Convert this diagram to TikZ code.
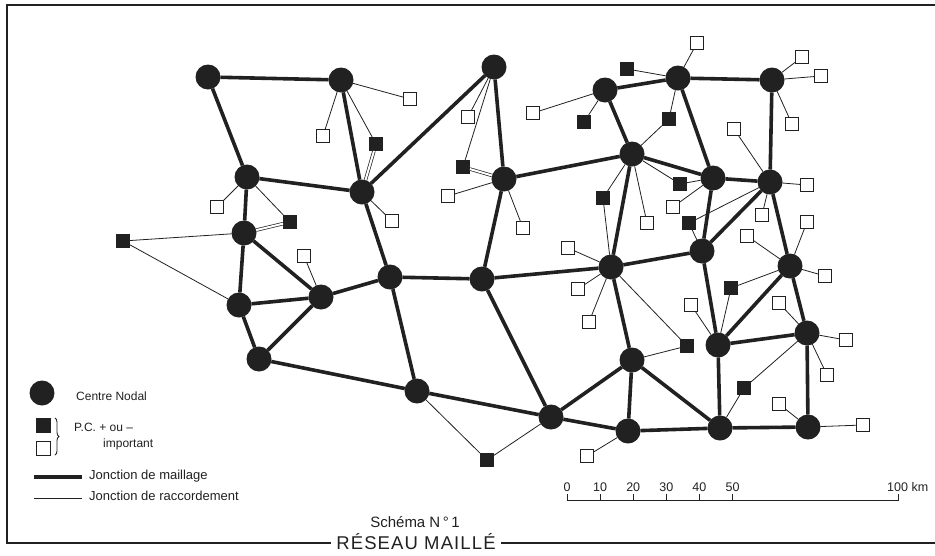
\documentclass[tikz,border=0pt]{standalone}
\usepackage{fontspec}
\setmainfont{Liberation Sans}
\usetikzlibrary{decorations.pathreplacing}
\definecolor{ink}{gray}{0.13}

\begin{document}
\begin{tikzpicture}[
	x = 1pt, y = -1pt,
	centre/.style = {circle, fill = ink, minimum size = 25pt, inner sep = 0pt, outer sep = 0pt},
	pcnoir/.style = {rectangle, fill = ink, minimum size = 14pt, inner sep = 0pt, outer sep = 0pt},
	pcblanc/.style = {rectangle, draw = ink, fill = white, line width = 0.9pt, minimum size = 13pt, inner sep = 0pt, outer sep = 0pt},
	maillage/.style = {draw = ink, line width = 3.6pt},
	raccord/.style = {draw = ink, line width = 0.8pt},
	raccord double/.style = {draw = ink, line width = 0.7pt, double = white, double distance = 2pt},
	legende/.style = {font = \fontsize{12}{14}\selectfont, anchor = west, inner sep = 0pt, text = ink},
	echelle/.style = {font = \fontsize{12.5}{14}\selectfont, inner sep = 0pt, text = ink}
	]
	\useasboundingbox (0,0) rectangle (935,555);

	\node[centre] (c1) at (208,77) {};
	\node[centre] (c2) at (341,80) {};
	\node[centre] (c3) at (494,67) {};
	\node[centre] (c4) at (247,177) {};
	\node[centre] (c5) at (244,233) {};
	\node[centre] (c6) at (362,192) {};
	\node[centre] (c7) at (504,179) {};
	\node[centre] (c8) at (605,90) {};
	\node[centre] (c9) at (678,78) {};
	\node[centre] (c10) at (772,80) {};
	\node[centre] (c11) at (632,154) {};
	\node[centre] (c12) at (713,178) {};
	\node[centre] (c13) at (770,182) {};
	\node[centre] (c14) at (702,251) {};
	\node[centre] (c15) at (239,305) {};
	\node[centre] (c16) at (321,297) {};
	\node[centre] (c17) at (390,277) {};
	\node[centre] (c18) at (482,279) {};
	\node[centre] (c19) at (611,267) {};
	\node[centre] (c20) at (790,266) {};
	\node[centre] (c21) at (259,359) {};
	\node[centre] (c22) at (417,391) {};
	\node[centre] (c23) at (551,417) {};
	\node[centre] (c24) at (632,360) {};
	\node[centre] (c25) at (718,345) {};
	\node[centre] (c26) at (807,333) {};
	\node[centre] (c27) at (628,431) {};
	\node[centre] (c28) at (720,428) {};
	\node[centre] (c29) at (808,427) {};

	\node[pcnoir] (f1) at (123,241) {};
	\node[pcnoir] (f2) at (290,222) {};
	\node[pcnoir] (f3) at (376,144) {};
	\node[pcnoir] (f4) at (463,167) {};
	\node[pcnoir] (f5) at (487,460) {};
	\node[pcnoir] (f6) at (584,122) {};
	\node[pcnoir] (f7) at (627,69) {};
	\node[pcnoir] (f8) at (669,119) {};
	\node[pcnoir] (f9) at (603,198) {};
	\node[pcnoir] (f10) at (680,184) {};
	\node[pcnoir] (f11) at (689,223) {};
	\node[pcnoir] (f12) at (687,346) {};
	\node[pcnoir] (f13) at (731,288) {};
	\node[pcnoir] (f14) at (744,388) {};

	\node[pcblanc] (o1) at (217,207) {};
	\node[pcblanc] (o2) at (304,256) {};
	\node[pcblanc] (o3) at (323,136) {};
	\node[pcblanc] (o4) at (410,99) {};
	\node[pcblanc] (o5) at (392,221) {};
	\node[pcblanc] (o6) at (468,117) {};
	\node[pcblanc] (o7) at (448,196) {};
	\node[pcblanc] (o8) at (523,228) {};
	\node[pcblanc] (o9) at (533,113) {};
	\node[pcblanc] (o10) at (697,43) {};
	\node[pcblanc] (o11) at (802,57) {};
	\node[pcblanc] (o12) at (821,76) {};
	\node[pcblanc] (o13) at (792,124) {};
	\node[pcblanc] (o14) at (734,129) {};
	\node[pcblanc] (o15) at (807,185) {};
	\node[pcblanc] (o16) at (762,215) {};
	\node[pcblanc] (o17) at (673,207) {};
	\node[pcblanc] (o18) at (647,223) {};
	\node[pcblanc] (o19) at (568,248) {};
	\node[pcblanc] (o20) at (578,289) {};
	\node[pcblanc] (o21) at (589,322) {};
	\node[pcblanc] (o22) at (807,222) {};
	\node[pcblanc] (o23) at (747,236) {};
	\node[pcblanc] (o24) at (825,276) {};
	\node[pcblanc] (o25) at (691,305) {};
	\node[pcblanc] (o26) at (779,303) {};
	\node[pcblanc] (o27) at (846,340) {};
	\node[pcblanc] (o28) at (827,375) {};
	\node[pcblanc] (o29) at (779,404) {};
	\node[pcblanc] (o30) at (863,425) {};
	\node[pcblanc] (o31) at (587,456) {};

	\draw[maillage] (c1) -- (c2) (c1) -- (c4) (c2) -- (c6) (c3) -- (c6) (c3) -- (c7)
		(c4) -- (c5) (c4) -- (c6) (c5) -- (c15) (c5) -- (c16) (c15) -- (c16)
		(c15) -- (c21) (c16) -- (c21) (c16) -- (c17) (c6) -- (c17) (c17) -- (c18)
		(c17) -- (c22) (c18) -- (c7) (c18) -- (c19) (c18) -- (c23) (c21) -- (c22)
		(c22) -- (c23) (c7) -- (c11) (c8) -- (c9) (c8) -- (c11) (c9) -- (c10)
		(c9) -- (c12) (c10) -- (c13) (c11) -- (c12) (c12) -- (c13) (c11) -- (c19)
		(c12) -- (c14) (c13) -- (c14) (c14) -- (c19) (c13) -- (c20) (c14) -- (c25)
		(c20) -- (c25) (c20) -- (c26) (c25) -- (c26) (c26) -- (c29) (c25) -- (c28)
		(c28) -- (c29) (c19) -- (c24) (c23) -- (c24) (c23) -- (c27) (c24) -- (c27)
		(c24) -- (c28) (c27) -- (c28);

	\draw[raccord] (c4) -- (o1) (c4) -- (f2) (c5) -- (f1) (c15) -- (f1) (c16) -- (o2)
		(c2) -- (o3) (c2) -- (o4) (c2) -- (f3) (c6) -- (o5) (c3) -- (o6) (c3) -- (f4)
		(c7) -- (o7) (c7) -- (o8) (c22) -- (f5) (c23) -- (f5) (c8) -- (o9) (c8) -- (f6)
		(c9) -- (o10) (c9) -- (f7) (c9) -- (f8) (c11) -- (f8) (c11) -- (f9) (c19) -- (f9)
		(c11) -- (f10) (c12) -- (f10) (c13) -- (f11) (c14) -- (f11) (c10) -- (o11)
		(c10) -- (o12) (c10) -- (o13) (c13) -- (o14) (c13) -- (o15) (c13) -- (o16)
		(c12) -- (o17) (c11) -- (o18) (c19) -- (o19) (c19) -- (o20) (c19) -- (o21)
		(c19) -- (f12) (c24) -- (f12) (c20) -- (o22) (c20) -- (o23) (c20) -- (o24)
		(c20) -- (f13) (c25) -- (f13) (c25) -- (o25) (c26) -- (o26) (c26) -- (o27)
		(c26) -- (o28) (c26) -- (f14) (c28) -- (f14) (c29) -- (o29) (c29) -- (o30)
		(c27) -- (o31);
	\draw[raccord double] (c5) -- (f2) (c6) -- (f3) (c7) -- (f4);

	\node[centre] (lcentre) at (42,393) {};
	\node[legende] (tcentre) at (76,396) {Centre Nodal};
	\node[pcnoir, minimum size = 15pt] (lnoir) at (43,425) {};
	\node[pcblanc, minimum size = 14pt] (lblanc) at (43,448) {};
	\draw[draw = ink, line width = 0.9pt, decorate, decoration = {brace, amplitude = 4pt}] (55,418) -- (55,455);
	\node[legende] (tpc) at (74,427) {P.C. + ou --};
	\node[legende] (timportant) at (103,444) {important};
	\draw[maillage] (34,477) -- (82,477);
	\node[legende, font = \fontsize{13}{15}\selectfont] (tmaillage) at (89,476) {Jonction de maillage};
	\draw[raccord] (34,498) -- (82,498);
	\node[legende, font = \fontsize{13}{15}\selectfont] (traccord) at (89,496) {Jonction de raccordement};

	\draw[draw = ink, line width = 1pt] (567,494) -- (567,500) -- (898,500) -- (898,494);
	\foreach \km in {10,20,30,40,50}
		\draw[draw = ink, line width = 1pt] (567+3.31*\km,500) -- (567+3.31*\km,494);
	\foreach \km in {0,10,20,30,40,50}
		\node[echelle] at (567+3.31*\km,487) {\km};
	\node[echelle, anchor = west] (tkm) at (887,487) {100 km};

	\node[text = ink, font = \fontsize{15}{17}\selectfont] (tschema) at (415,522) {Schéma N\,°\,1};
	\draw[draw = ink, line width = 1.6pt] (935,5) -- (7,5) -- (7,543) -- (935,543);
	\node[fill = white, text = ink, inner xsep = 5pt, inner ysep = 0pt, anchor = base,
		font = \fontsize{18.5}{20}\selectfont\addfontfeature{LetterSpace = 6}] (titre) at (416,549) {RÉSEAU MAILLÉ};
\end{tikzpicture}
\end{document}
